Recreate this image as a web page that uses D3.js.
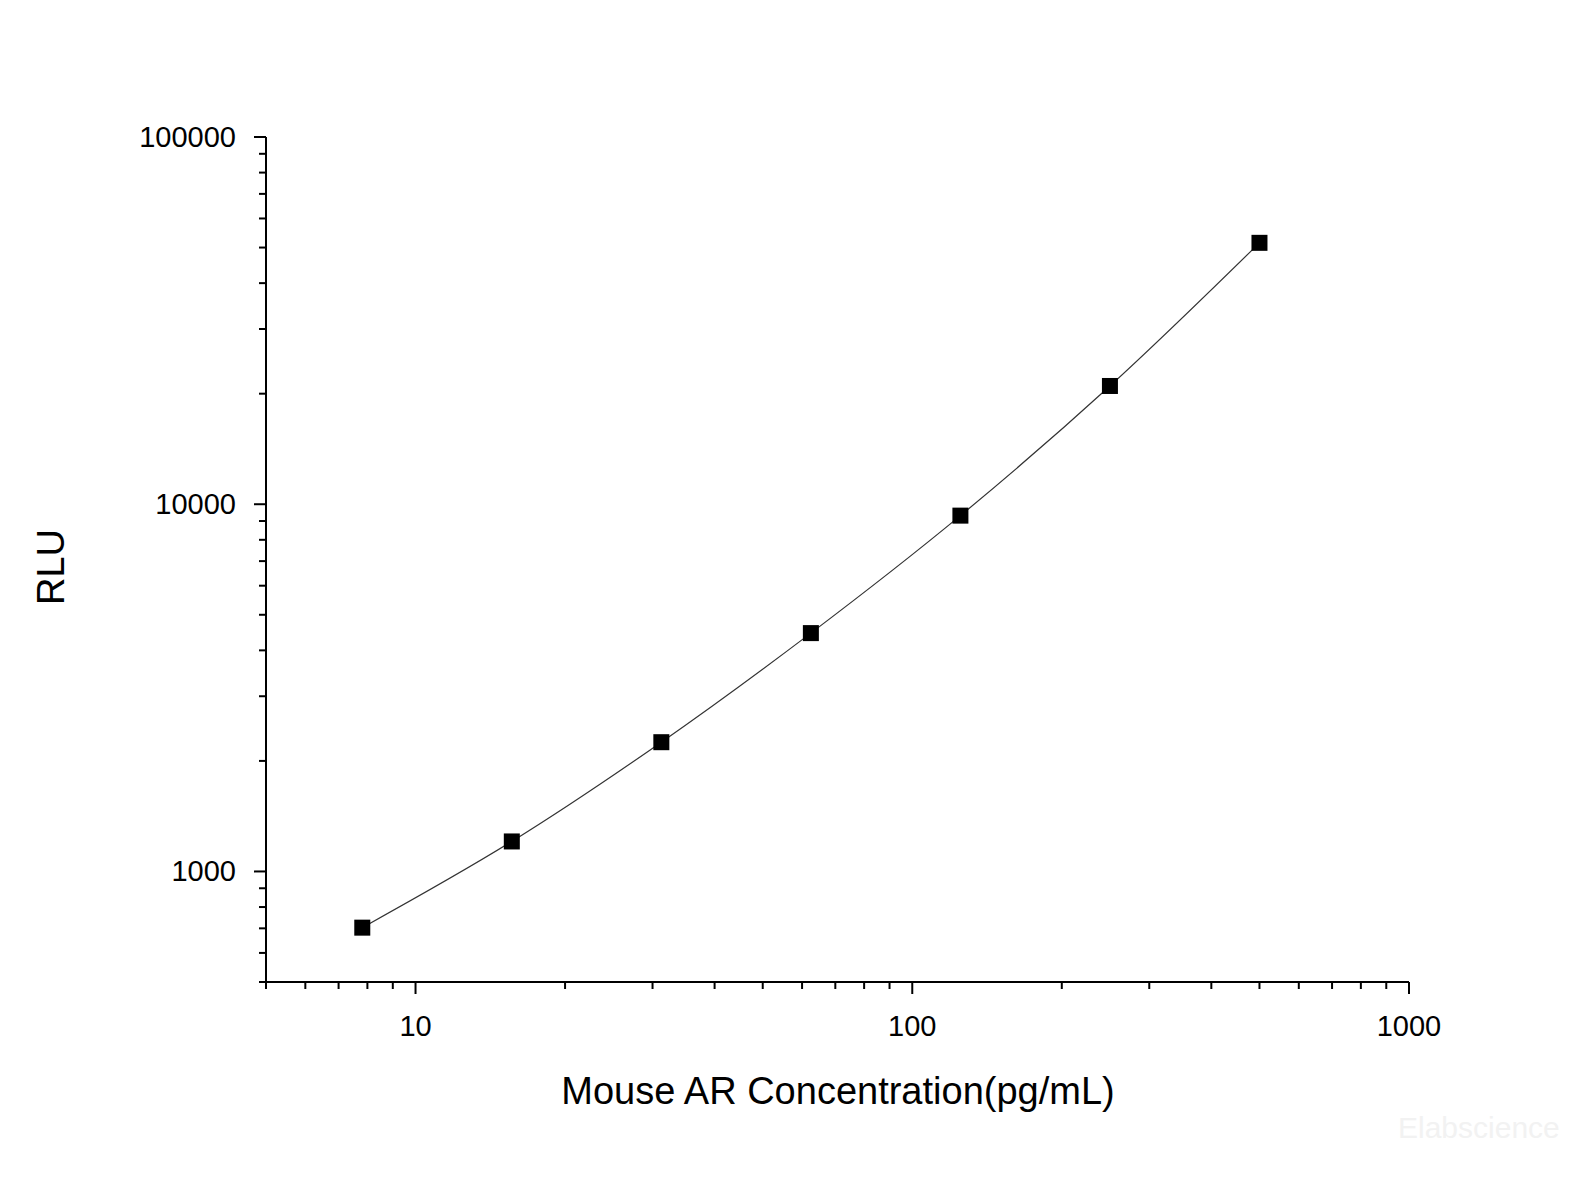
<!DOCTYPE html>
<html>
<head>
<meta charset="utf-8">
<script src="https://cdn.jsdelivr.net/npm/d3@7"></script>
<style>
  body { margin: 0; background: #fff; }
  text { font-family: "Liberation Sans", Arial, sans-serif; fill: #000; }
</style>
</head>
<body>
<script>
// standard curve values
const concentration = [7.8125, 15.625, 31.25, 62.5, 125, 250, 500];
const rlu = [703, 1207, 2249, 4457, 9310, 20990, 51500];
const xTickLabels = [10, 100, 1000];
const yTickLabels = [1000, 10000, 100000];

const width = 1585, height = 1189;
const plotLeft = 266, plotRight = 1409, plotTop = 137, plotBottom = 982;

const svg = d3.select("body").append("svg")
    .attr("width", width)
    .attr("height", height);

const x = d3.scaleLog().domain([5, 1000]).range([plotLeft, plotRight]);
const y = d3.scaleLog().domain([500, 100000]).range([plotBottom, plotTop]);

// minor ticks for each decade
function minorTicks(lo, hi) {
    let out = [];
    for (let d = Math.pow(10, Math.floor(Math.log10(lo))); d < hi; d *= 10) {
        for (let m = 2; m < 10; m++) {
            let v = m * d;
            if (v >= lo && v <= hi) out.push(v);
        }
    }
    return out;
}

// x axis
const gx = svg.append("g").attr("transform", "translate(0," + plotBottom + ")");
gx.append("line").attr("x1", plotLeft).attr("x2", plotRight).attr("stroke", "#000").attr("stroke-width", 2);
gx.selectAll(".minor").data(minorTicks(5, 1000)).enter().append("line")
    .attr("x1", d => x(d)).attr("x2", d => x(d)).attr("y1", 0).attr("y2", 7)
    .attr("stroke", "#000").attr("stroke-width", 2);
gx.selectAll(".major").data(xTickLabels).enter().append("line")
    .attr("x1", d => x(d)).attr("x2", d => x(d)).attr("y1", 0).attr("y2", 12)
    .attr("stroke", "#000").attr("stroke-width", 2);
gx.selectAll(".lbl").data(xTickLabels).enter().append("text")
    .attr("x", d => x(d)).attr("y", 54)
    .attr("text-anchor", "middle").attr("font-size", 29)
    .text(d => d);

// y axis
const gy = svg.append("g").attr("transform", "translate(" + plotLeft + ",0)");
gy.append("line").attr("y1", plotTop).attr("y2", plotBottom).attr("stroke", "#000").attr("stroke-width", 2);
gy.selectAll(".minor").data(minorTicks(500, 100000)).enter().append("line")
    .attr("y1", d => y(d)).attr("y2", d => y(d)).attr("x1", 0).attr("x2", -7)
    .attr("stroke", "#000").attr("stroke-width", 2);
gy.selectAll(".major").data(yTickLabels).enter().append("line")
    .attr("y1", d => y(d)).attr("y2", d => y(d)).attr("x1", 0).attr("x2", -12)
    .attr("stroke", "#000").attr("stroke-width", 2);
gy.selectAll(".lbl").data(yTickLabels).enter().append("text")
    .attr("x", -30).attr("y", d => y(d) + 10)
    .attr("text-anchor", "end").attr("font-size", 29)
    .text(d => d);

// axis titles
svg.append("text")
    .attr("x", 838).attr("y", 1104)
    .attr("text-anchor", "middle").attr("font-size", 38)
    .text("Mouse AR Concentration(pg/mL)");

svg.append("text")
    .attr("transform", "translate(64,567) rotate(-90)")
    .attr("text-anchor", "middle").attr("font-size", 38)
    .text("RLU");

// fitted curve
const pts = concentration.map((c, i) => [x(c), y(rlu[i])]);
svg.append("path")
    .attr("d", d3.line().curve(d3.curveCatmullRom)(pts))
    .attr("fill", "none").attr("stroke", "#333").attr("stroke-width", 1.2);

// points
svg.selectAll(".pt").data(pts).enter().append("rect")
    .attr("x", d => d[0] - 8).attr("y", d => d[1] - 8)
    .attr("width", 16).attr("height", 16)
    .attr("fill", "#000");

// watermark
svg.append("text")
    .attr("x", 1398).attr("y", 1138)
    .attr("font-size", 30).style("fill", "#f2f2f2")
    .text("Elabscience");
</script>
</body>
</html>
